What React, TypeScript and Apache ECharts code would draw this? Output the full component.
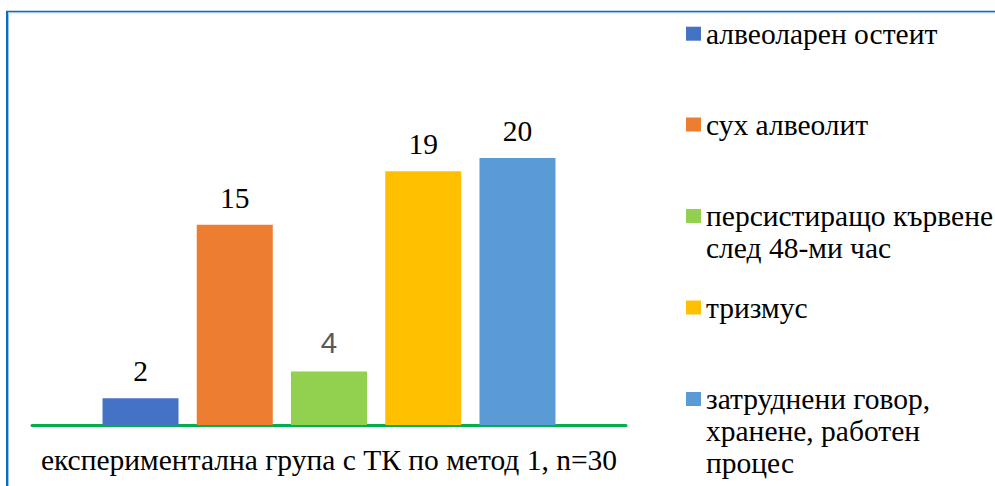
import React, { useEffect, useRef } from "react";
import * as echarts from "echarts";

// Data
const categories = ["експериментална група с ТК по метод 1, n=30"];
const seriesNames = [
  "алвеоларен остеит",
  "сух алвеолит",
  "персистиращо кървене след 48-ми час",
  "тризмус",
  "затруднени говор, хранене, работен процес",
];
const legendLines = [
  ["алвеоларен остеит"],
  ["сух алвеолит"],
  ["персистиращо кървене", "след 48-ми час"],
  ["тризмус"],
  ["затруднени говор,", "хранене, работен", "процес"],
];
const values = [2, 15, 4, 19, 20];
const colors = ["#4472c4", "#ed7d31", "#92d050", "#ffc000", "#5b9bd5"];

const SERIF = "Liberation Serif";
const SANS = "Liberation Sans";
const FONT_SIZE = 29.5;
const LINE_H = 32;
const BORDER = "#0070c0";

export default function App() {
  const ref = useRef<HTMLDivElement>(null);

  useEffect(() => {
    if (!ref.current) return;
    const chart = echarts.init(ref.current, undefined, { renderer: "svg" });

    // each legend entry sits in its own slot; the icon lines up with the first text line,
    // so multi-line names get leading blank lines that keep that line centred on the icon
    const legendIconCenters = [33.7, 124.5, 216, 307.5, 399];
    const legends = seriesNames.map((name, i) => {
      const n = legendLines[i].length;
      const blockH = (2 * n - 1) * LINE_H;
      return {
        left: 686,
        top: legendIconCenters[i] - blockH / 2,
        padding: 0,
        orient: "vertical",
        icon: "rect",
        itemWidth: 15,
        itemHeight: 14,
        data: [name],
        formatter: () => "\n".repeat(n - 1) + legendLines[i].join("\n"),
        textStyle: {
          fontFamily: SERIF,
          fontSize: FONT_SIZE,
          color: "#000",
          lineHeight: LINE_H,
        },
        selectedMode: false,
      };
    });

    const series = seriesNames.map((name, i) => {
      const gray = i === 2;
      return {
        name,
        type: "bar",
        data: [values[i]],
        barWidth: 76,
        barGap: "24%",
        itemStyle: { color: colors[i] },
        label: {
          show: true,
          position: "top",
          distance: gray ? 14 : 12,
          fontFamily: gray ? SANS : SERIF,
          fontSize: FONT_SIZE,
          color: gray ? "#595959" : "#000",
        },
      };
    });

    chart.setOption({
      animation: false,
      backgroundColor: "#fff",
      grid: { left: 32, right: 369, top: 91.25, bottom: 61 },
      legend: legends,
      xAxis: {
        type: "category",
        data: categories,
        axisLine: { lineStyle: { color: "#00b050", width: 3 } },
        axisTick: { show: false },
        axisLabel: {
          margin: 20,
          fontFamily: SERIF,
          fontSize: FONT_SIZE,
          color: "#000",
        },
      },
      yAxis: {
        type: "value",
        min: 0,
        max: 25,
        show: false,
        splitLine: { show: false },
      },
      graphic: [
        // frame: top and left edges
        { type: "line", shape: { x1: 6, y1: 11.5, x2: 995, y2: 11.5 }, style: { stroke: BORDER, lineWidth: 1.5 } },
        { type: "line", shape: { x1: 6, y1: 12.75, x2: 995, y2: 12.75 }, style: { stroke: "#9dc3e6", lineWidth: 1 } },
        { type: "line", shape: { x1: 7, y1: 11, x2: 7, y2: 486 }, style: { stroke: BORDER, lineWidth: 2 } },
        { type: "line", shape: { x1: 8.5, y1: 12, x2: 8.5, y2: 486 }, style: { stroke: "#9dc3e6", lineWidth: 1 } },
      ],
      series,
    });

    return () => chart.dispose();
  }, []);

  return (
    <div
      ref={ref}
      style={{ position: "fixed", left: 0, top: 0, width: 995, height: 486 }}
    />
  );
}
